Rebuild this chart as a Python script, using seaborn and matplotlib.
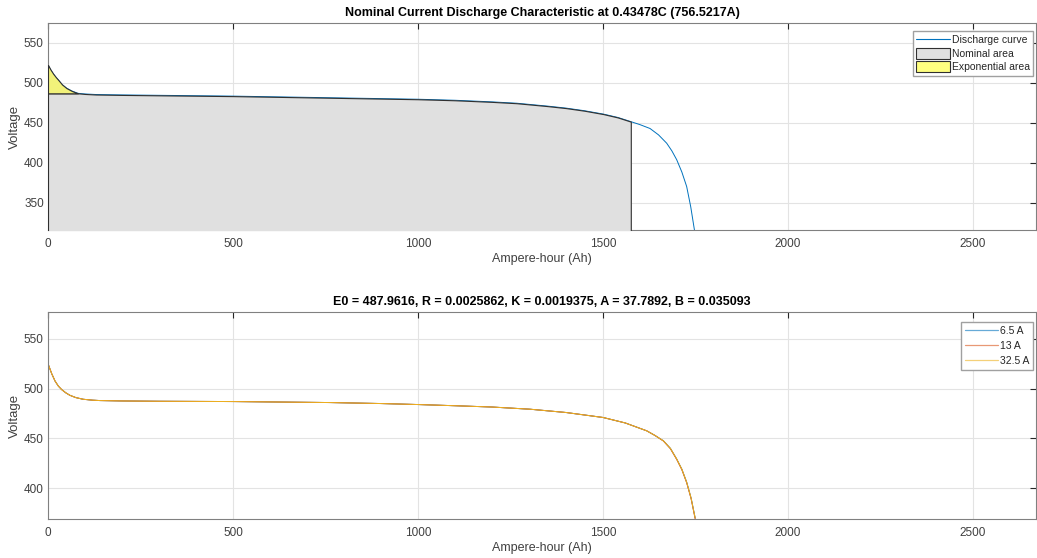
import numpy as np
import pandas as pd
import matplotlib
matplotlib.use("Agg")
import matplotlib.pyplot as plt
import seaborn as sns
from matplotlib.patches import Patch
from matplotlib.lines import Line2D

# nominal discharge curve (top panel)
top_ah = [0, 7, 14, 21, 28, 38, 50, 65, 81, 100, 130, 200, 300, 500, 681,
          1000, 1100, 1200, 1267, 1350, 1400, 1450, 1501, 1540, 1575, 1600,
          1627, 1650, 1672, 1686, 1699, 1713, 1726, 1737, 1747, 1752]
top_v = [522.5, 516.5, 511.5, 507.3, 503.6, 498, 493.5, 489.8, 487, 486.2,
         485.5, 485, 484.5, 483.5, 482.1, 479.6, 478.3, 476.3, 474.6, 471,
         468.5, 465.2, 461, 456.8, 451.6, 447.8, 443, 435, 424.6, 415, 404,
         388.5, 370.4, 345, 316, 300]
nominal_v = 487
exp_end_ah = 81
nom_end_ah = 1575

# discharge curves at several currents (bottom panel)
bot_ah = [0, 10, 19, 28, 37, 48, 59, 75, 95, 120, 140, 200, 300, 500, 762,
          900, 1000, 1100, 1200, 1303, 1400, 1500, 1560, 1618, 1640, 1663,
          1682, 1699, 1713, 1726, 1738, 1749]
v_6_5 = [525, 515, 507.6, 502.5, 499, 495.8, 493.3, 491, 489.3, 488.4, 488,
         487.6, 487.3, 487, 486, 485, 484, 482.8, 481.5, 479.3, 476, 471,
         465.5, 457.6, 453, 447.6, 440, 429.3, 419, 406, 390, 370]
v_13 = [525, 515, 507.6, 502.5, 499, 495.8, 493.3, 491, 489.3, 488.4, 488,
        487.6, 487.3, 487, 486, 485, 484, 482.8, 481.5, 479.3, 476, 471,
        465.5, 457.6, 453, 447.4, 439.6, 428.9, 418.5, 405.4, 389.3, 369]
v_32_5 = [525, 515, 507.6, 502.5, 499, 495.8, 493.3, 491, 489.3, 488.4, 488,
          487.6, 487.3, 487, 486, 485, 484, 482.8, 481.5, 479.3, 476, 471,
          465.5, 457.6, 453, 447.6, 440, 429.3, 419, 406, 390, 370]
currents = ["6.5 A", "13 A", "32.5 A"]

xticks = [0, 500, 1000, 1500, 2000, 2500]
top_yticks = [350, 400, 450, 500, 550]
bot_yticks = [400, 450, 500, 550]

sns.set_style("white")
plt.rcParams["font.family"] = ["Liberation Sans", "DejaVu Sans"]

fig = plt.figure(figsize=(10.37, 5.58), dpi=100)
ax1 = fig.add_axes([0.0463, 0.5878, 0.9527, 0.371])
ax2 = fig.add_axes([0.0463, 0.0699, 0.9527, 0.371])

spine_col = "#808080"
text_col = "#404040"


def matlab_look(ax, yticks, ylim, title):
    ax.set_xlim(0, 2670)
    ax.set_ylim(*ylim)
    ax.set_xticks(xticks)
    ax.set_yticks(yticks)
    ax.grid(True, color="#E3E3E3", linewidth=0.8)
    ax.set_axisbelow(True)
    for s in ax.spines.values():
        s.set_color(spine_col)
        s.set_linewidth(0.8)
    ax.tick_params(direction="in", top=True, right=True, length=4,
                   width=0.8, color="#262626", labelsize=8.5,
                   labelcolor=text_col)
    ax.tick_params(axis="x", pad=6)
    ax.tick_params(axis="y", pad=3)
    ax.set_xlabel("Ampere-hour (Ah)", fontsize=9, color=text_col, labelpad=2)
    ax.set_ylabel("Voltage", fontsize=9.5, color=text_col, labelpad=2)
    ax.set_title(title, fontsize=9, fontweight="bold", color="black", pad=5)


blue = "#0072BD"
orange = "#D95319"
yellow = "#EDB120"

# top panel
sns.lineplot(x=top_ah, y=top_v, color=blue, linewidth=0.7, ax=ax1,
             sort=False, estimator=None)
ah = np.array(top_ah)
v = np.array(top_v)
m = ah <= nom_end_ah
ax1.fill_between(ah[m], np.minimum(v[m], nominal_v), 200,
                 facecolor="#E0E0E0", edgecolor="#303030", linewidth=0.8,
                 zorder=3)
m2 = ah <= exp_end_ah
ax1.fill_between(ah[m2], v[m2], nominal_v, facecolor="#F2F27A",
                 edgecolor="#303030", linewidth=0.8, zorder=3)
matlab_look(ax1, top_yticks, (316, 575),
            "Nominal Current Discharge Characteristic at 0.43478C (756.5217A)")
h1 = [Line2D([], [], color=blue, linewidth=0.8),
      Patch(facecolor="#E0E0E0", edgecolor="#303030", linewidth=0.8),
      Patch(facecolor="#FFFF80", edgecolor="#303030", linewidth=0.8)]
ax1.legend(h1, ["Discharge curve", "Nominal area", "Exponential area"],
           loc="upper right", bbox_to_anchor=(0.997, 0.961),
           borderaxespad=0, fontsize=7.5, frameon=True, fancybox=False,
           edgecolor="#A0A0A0", framealpha=1,
           handlelength=3.2, handleheight=1.25, handletextpad=0.2,
           labelspacing=0.25, borderpad=0.3)

# bottom panel
df = pd.DataFrame({
    "Ah": bot_ah * 3,
    "Voltage": v_6_5 + v_13 + v_32_5,
    "Current": [currents[0]] * len(bot_ah) + [currents[1]] * len(bot_ah)
    + [currents[2]] * len(bot_ah),
})
sns.lineplot(data=df, x="Ah", y="Voltage", hue="Current",
             palette=[blue, orange, yellow], linewidth=0.7, ax=ax2,
             estimator=None, legend=False)
matlab_look(ax2, bot_yticks, (369, 577),
            "E0 = 487.9616, R = 0.0025862, K = 0.0019375, A = 37.7892, B = 0.035093")
h2 = [Line2D([], [], color=c, linewidth=0.9, alpha=0.6)
      for c in [blue, orange, yellow]]
ax2.legend(h2, currents, loc="upper right", bbox_to_anchor=(0.997, 0.952),
           borderaxespad=0, fontsize=7.5, frameon=True,
           fancybox=False, edgecolor="#A0A0A0", framealpha=1,
           handlelength=3.2, handletextpad=0.2,
           labelspacing=0.5, borderpad=0.35)

fig.savefig("out.png", dpi=100)
